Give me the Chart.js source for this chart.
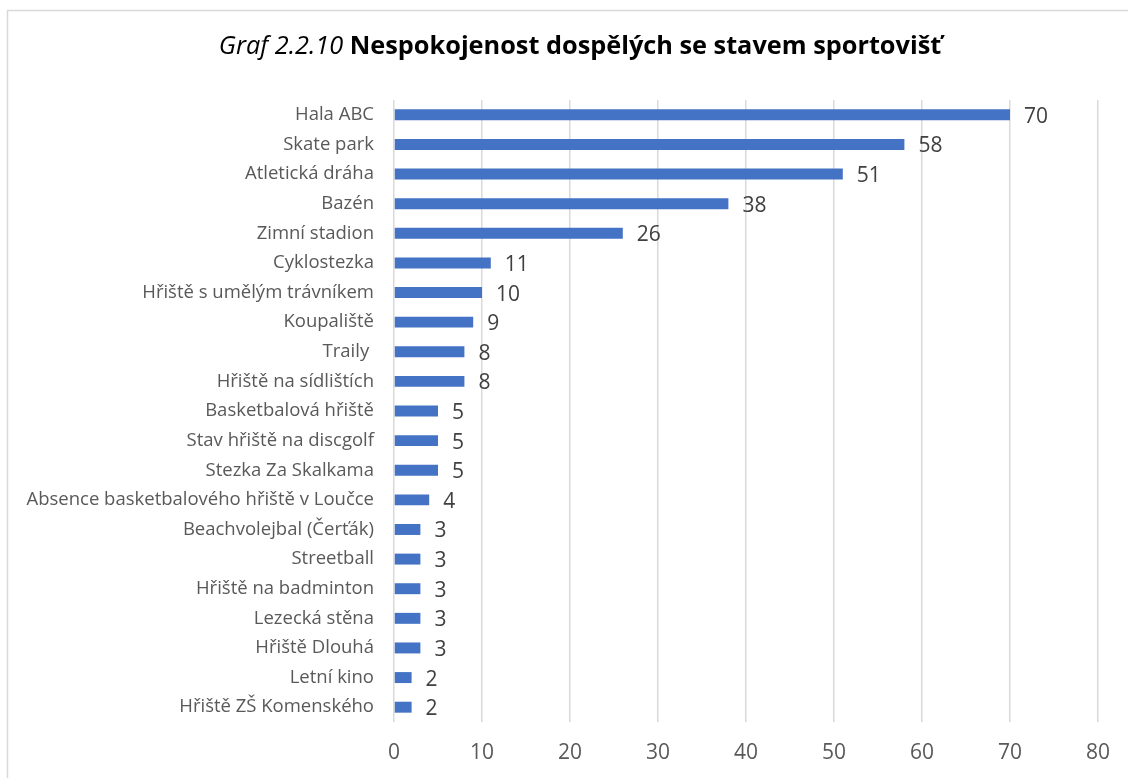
<!DOCTYPE html>
<html>
<head>
<meta charset="utf-8">
<script src="https://cdn.jsdelivr.net/npm/chart.js@4"></script>
<style>
  html, body { margin: 0; padding: 0; background: #fff; }
  #wrap { width: 1128px; height: 778px; position: relative; }
</style>
</head>
<body>
<div id="wrap"><canvas id="graph-canvas"></canvas></div>
<script>
const categories = [
  "Hala ABC", "Skate park", "Atletická dráha", "Bazén", "Zimní stadion",
  "Cyklostezka", "Hřiště s umělým trávníkem", "Koupaliště", "Traily ",
  "Hřiště na sídlištích", "Basketbalová hřiště", "Stav hřiště na discgolf",
  "Stezka Za Skalkama", "Absence basketbalového hřiště v Loučce",
  "Beachvolejbal (Čerťák)", "Streetball", "Hřiště na badminton",
  "Lezecká stěna", "Hřiště Dlouhá", "Letní kino", "Hřiště ZŠ Komenského"
];
const values = [70, 58, 51, 38, 26, 11, 10, 9, 8, 8, 5, 5, 5, 4, 3, 3, 3, 3, 3, 2, 2];
const axisMin = 0;
const axisMax = 80;
const axisStep = 10;
const titleItalic = "Graf 2.2.10 ";
const titleBold = "Nespokojenost dospělých se stavem sportovišť";

const FONT = "'Open Sans', sans-serif";

// Frame and two-part title
const framePlugin = {
  id: "frame",
  beforeDraw(chart) {
    const c = chart.ctx;
    c.save();
    c.fillStyle = "#fff";
    c.fillRect(0, 0, chart.width, chart.height);
    c.strokeStyle = "#d9d9d9";
    c.lineWidth = 1.5;
    c.strokeRect(7.5, 10.5, chart.width + 20, chart.height + 20);
    c.restore();
  },
  afterDraw(chart) {
    const c = chart.ctx;
    c.save();
    c.textBaseline = "middle";
    c.fillStyle = "#000";
    c.font = "italic 25.3px " + FONT;
    const w1 = c.measureText(titleItalic).width;
    c.font = "bold 25.3px " + FONT;
    const w2 = c.measureText(titleBold).width;
    let x = 580 - (w1 + w2) / 2;
    c.textAlign = "left";
    c.font = "italic 25.3px " + FONT;
    c.fillText(titleItalic, x, 47);
    c.font = "bold 25.3px " + FONT;
    c.fillText(titleBold, x + w1, 47);
    c.restore();
  }
};

// Value labels at bar ends
const valueLabels = {
  id: "valueLabels",
  afterDatasetsDraw(chart) {
    const c = chart.ctx;
    const meta = chart.getDatasetMeta(0);
    c.save();
    c.font = "21px " + FONT;
    c.fillStyle = "#404040";
    c.textAlign = "left";
    c.textBaseline = "middle";
    meta.data.forEach((bar, i) => {
      c.fillText(String(values[i]), bar.x + 14, bar.y + 2);
    });
    c.restore();
  }
};

const ctx = document.getElementById("graph-canvas").getContext("2d");
new Chart(ctx, {
  type: "bar",
  data: {
    labels: categories,
    datasets: [{
      data: values,
      backgroundColor: "#4472c4",
      borderWidth: 0,
      categoryPercentage: 1,
      barPercentage: 0.37
    }]
  },
  options: {
    indexAxis: "y",
    responsive: true,
    maintainAspectRatio: false,
    animation: false,
    layout: { padding: { left: 0, right: 30, top: 100, bottom: 0 } },
    plugins: {
      legend: { display: false },
      title: { display: false },
      tooltip: { enabled: false }
    },
    scales: {
      x: {
        min: axisMin,
        max: axisMax,
        ticks: {
          stepSize: axisStep,
          padding: 18,
          color: "#595959",
          font: { family: FONT, size: 21 }
        },
        grid: { color: "#d9d9d9", lineWidth: 1.5, drawTicks: false },
        border: { display: false },
        afterFit(scale) { scale.height = 56; }
      },
      y: {
        ticks: {
          padding: 20,
          color: "#595959",
          font: { family: FONT, size: 18.5 },
          autoSkip: false
        },
        grid: { display: false, drawTicks: false },
        border: { display: false },
        afterFit(scale) { scale.width = 394; }
      }
    }
  },
  plugins: [framePlugin, valueLabels]
});
</script>
</body>
</html>
